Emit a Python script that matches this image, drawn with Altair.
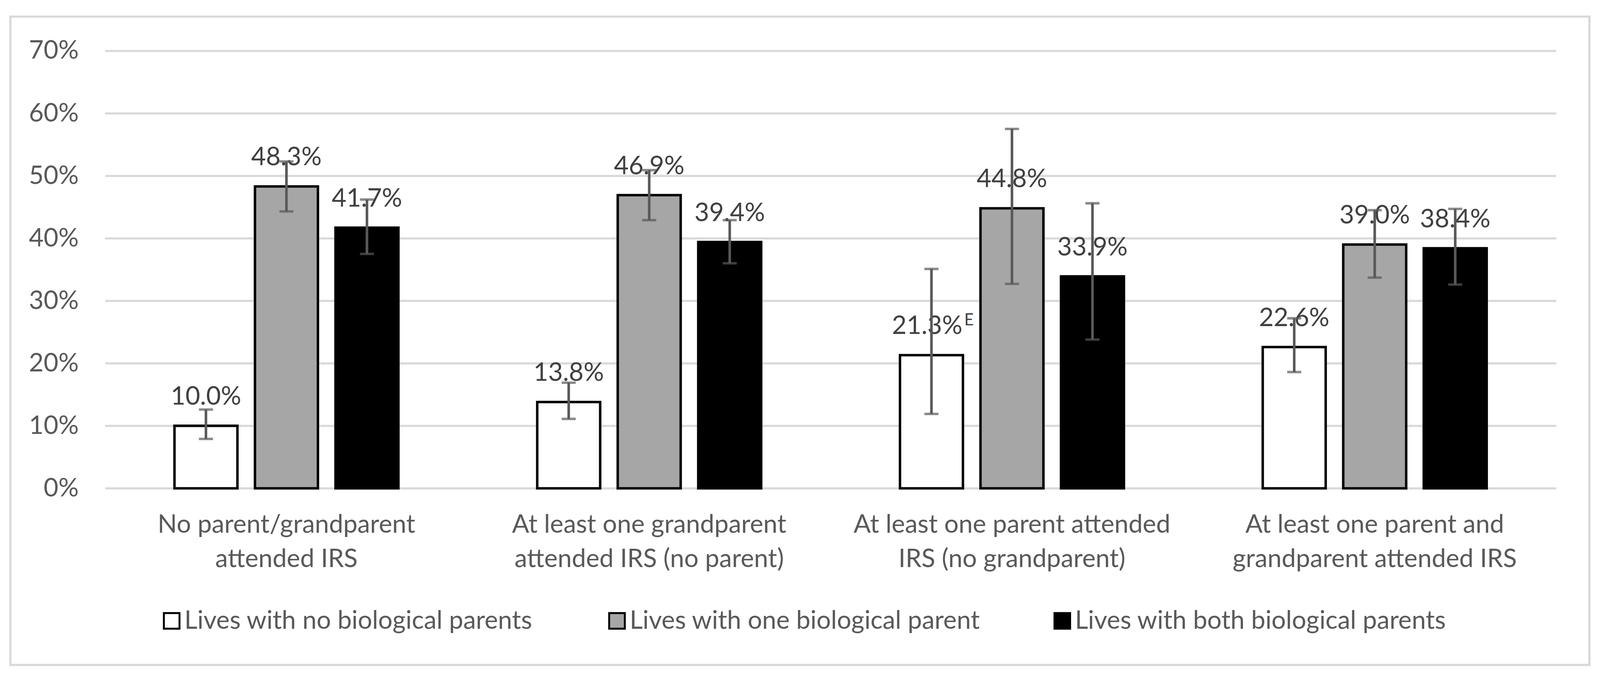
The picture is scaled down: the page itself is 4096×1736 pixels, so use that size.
import altair as alt
import pandas as pd

groups = [
    "No parent/grandparent|attended IRS",
    "At least one grandparent|attended IRS (no parent)",
    "At least one parent attended|IRS (no grandparent)",
    "At least one parent and|grandparent attended IRS",
]
series = [
    "Lives with no biological parents",
    "Lives with one biological parent",
    "Lives with both biological parents",
]
colors = ["#ffffff", "#a6a6a6", "#000000"]

values_none = [10.0, 13.8, 21.3, 22.6]
values_one = [48.3, 46.9, 44.8, 39.0]
values_both = [41.7, 39.4, 33.9, 38.4]

low_none = [7.9, 11.1, 11.9, 18.6]
high_none = [12.6, 16.9, 35.1, 27.2]
low_one = [44.3, 42.9, 32.7, 33.7]
high_one = [52.3, 50.9, 57.5, 44.5]
low_both = [37.5, 36.0, 23.8, 32.6]
high_both = [46.2, 42.9, 45.6, 44.7]

flags_none = ["", "", "E", ""]
flags_one = ["", "", "", ""]
flags_both = ["", "", "", ""]

y_ticks = [0, 10, 20, 30, 40, 50, 60, 70]

rows = []
for s, vals, lows, highs, flags in [
    (series[0], values_none, low_none, high_none, flags_none),
    (series[1], values_one, low_one, high_one, flags_one),
    (series[2], values_both, low_both, high_both, flags_both),
]:
    for g, v, lo, hi, f in zip(groups, vals, lows, highs, flags):
        rows.append({"group": g, "series": s, "value": v, "low": lo, "high": hi, "flag": f})
df = pd.DataFrame(rows)

FONT = "Lato"
FS = 65
AXIS_COLOR = "#595959"
LABEL_COLOR = "#404040"

x_enc = alt.X(
    "group:N",
    sort=groups,
    scale=alt.Scale(paddingInner=0, paddingOuter=0),
    axis=alt.Axis(
        title=None,
        labelExpr="split(datum.label, '|')",
        labelFont=FONT,
        labelFontSize=FS,
        labelColor=AXIS_COLOR,
        labelLineHeight=88,
        labelPadding=62,
        labelBaseline="top",
        labelLimit=3000,
        labelAngle=0,
        ticks=False,
        tickSize=0,
        domain=False,
        grid=False,
    ),
)
xoff_enc = alt.XOffset(
    "series:N", sort=series, scale=alt.Scale(paddingInner=0.218, paddingOuter=0.862)
)
y_enc = alt.Y(
    "value:Q",
    scale=alt.Scale(domain=[0, 70], nice=False),
    axis=alt.Axis(
        title=None,
        values=y_ticks,
        labelExpr="datum.value + '%'",
        labelFont=FONT,
        labelFontSize=FS,
        labelColor=AXIS_COLOR,
        labelPadding=68,
        ticks=False,
        tickSize=0,
        domain=False,
        gridColor="#d9d9d9",
        gridWidth=5.7,
    ),
)

base = alt.Chart(df)

frame = alt.Chart(pd.DataFrame({"a": [0]})).mark_rect(
    filled=False, stroke="#d9d9d9", strokeWidth=5.7
).encode(
    x=alt.value(-242.5), x2=alt.value(3800), y=alt.value(-87.5), y2=alt.value(1572.7)
)

bars = base.mark_bar(stroke="black", strokeWidth=6.3).encode(
    x=x_enc,
    xOffset=xoff_enc,
    y=y_enc,
    fill=alt.Fill(
        "series:N",
        sort=series,
        scale=alt.Scale(domain=series, range=colors),
        legend=alt.Legend(
            title=None,
            orient="none",
            legendX=138,
            legendY=1427,
            direction="horizontal",
            columns=3,
            gridAlign="all",
            columnPadding=124,
            padding=0,
            symbolType="square",
            symbolSize=1600,
            symbolStrokeColor="black",
            symbolStrokeWidth=5,
            labelFont=FONT,
            labelFontSize=FS,
            labelColor=AXIS_COLOR,
            labelOffset=0,
            labelLimit=3000,
        ),
    ),
)

labels = base.transform_filter("datum.flag == ''").transform_calculate(
    label="format(datum.value, '.1f') + '%'"
).mark_text(
    font=FONT, fontSize=FS, color=LABEL_COLOR, baseline="alphabetic", align="center", dy=-54
).encode(x=alt.X("group:N", sort=groups), xOffset=alt.XOffset("series:N", sort=series),
         y=alt.Y("value:Q"), text="label:N")

labels_e = base.transform_filter("datum.flag != ''").transform_calculate(
    label="format(datum.value, '.1f') + '%'"
).mark_text(
    font=FONT, fontSize=FS, color=LABEL_COLOR, baseline="alphabetic", align="center", dy=-54, dx=-11
).encode(x=alt.X("group:N", sort=groups), xOffset=alt.XOffset("series:N", sort=series),
         y=alt.Y("value:Q"), text="label:N")

sup_e = base.transform_filter("datum.flag != ''").mark_text(
    font=FONT, fontSize=42, color=LABEL_COLOR, baseline="alphabetic", align="left", dy=-76, dx=84
).encode(x=alt.X("group:N", sort=groups), xOffset=alt.XOffset("series:N", sort=series),
         y=alt.Y("value:Q"), text="flag:N")

err = base.mark_rule(color=AXIS_COLOR, strokeWidth=6.6).encode(
    x=alt.X("group:N", sort=groups), xOffset=alt.XOffset("series:N", sort=series),
    y=alt.Y("low:Q"), y2="high:Q"
)
cap_lo = base.mark_tick(color=AXIS_COLOR, thickness=6.3, size=36, orient="horizontal").encode(
    x=alt.X("group:N", sort=groups), xOffset=alt.XOffset("series:N", sort=series),
    y=alt.Y("low:Q")
)
cap_hi = base.mark_tick(color=AXIS_COLOR, thickness=6.3, size=36, orient="horizontal").encode(
    x=alt.X("group:N", sort=groups), xOffset=alt.XOffset("series:N", sort=series),
    y=alt.Y("high:Q")
)

chart = alt.layer(frame, bars, labels, labels_e, sup_e, err, cap_lo, cap_hi).properties(
    width=3714.6,
    height=1120.3,
    autosize=alt.AutoSizeParams(type="none"),
    padding={"left": 261, "top": 122, "right": 100, "bottom": 474},
    background="white",
).configure_view(stroke=None)

chart.save("out.html", embed_options={"renderer": "svg", "actions": False})
